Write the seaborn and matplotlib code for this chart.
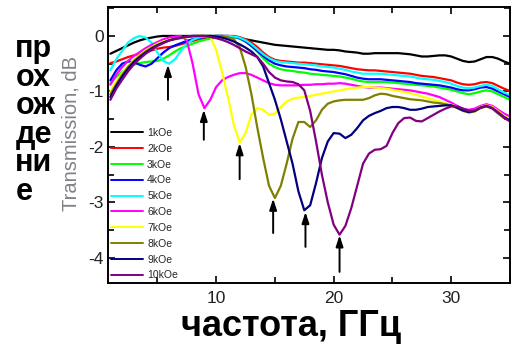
import numpy as np
import pandas as pd
import matplotlib
matplotlib.use("Agg")
import matplotlib.pyplot as plt
import seaborn as sns
from matplotlib.ticker import MultipleLocator

freq = [1.0, 1.5, 2.0, 2.5, 3.0, 3.5, 4.0, 4.5, 5.0, 5.5, 6.0, 6.5, 7.0, 7.5, 8.0, 8.5,
        9.0, 9.5, 10.0, 10.5, 11.0, 11.5, 12.0, 12.5, 13.0, 13.5, 14.0, 14.5, 15.0, 15.5,
        16.0, 16.5, 17.0, 17.5, 18.0, 18.5, 19.0, 19.5, 20.0, 20.5, 21.0, 21.5, 22.0, 22.5,
        23.0, 23.5, 24.0, 24.5, 25.0, 25.5, 26.0, 26.5, 27.0, 27.5, 28.0, 28.5, 29.0, 29.5,
        30.0, 30.5, 31.0, 31.5, 32.0, 32.5, 33.0, 33.5, 34.0, 34.5, 35.0]

t_1kOe = [-0.32, -0.27, -0.22, -0.17, -0.12, -0.08, -0.05, -0.03, -0.01, 0.0, 0.0, 0.0, 0.0, 0.0,
          0.0, 0.0, 0.0, 0.0, 0.0, 0.0, -0.01, -0.02, -0.04, -0.06, -0.08, -0.1, -0.12, -0.14,
          -0.16, -0.17, -0.18, -0.19, -0.2, -0.21, -0.22, -0.23, -0.24, -0.25, -0.25, -0.26,
          -0.28, -0.29, -0.3, -0.32, -0.32, -0.31, -0.31, -0.31, -0.31, -0.31, -0.32, -0.33,
          -0.35, -0.37, -0.37, -0.36, -0.35, -0.35, -0.37, -0.41, -0.45, -0.47, -0.46, -0.42,
          -0.38, -0.38, -0.41, -0.46, -0.5]
t_2kOe = [-0.49, -0.46, -0.42, -0.38, -0.35, -0.32, -0.29, -0.26, -0.23, -0.21, -0.2, -0.18,
          -0.15, -0.12, -0.09, -0.06, -0.04, -0.02, -0.01, 0.0, 0.0, 0.0, -0.02, -0.06, -0.12,
          -0.2, -0.3, -0.38, -0.43, -0.45, -0.46, -0.47, -0.48, -0.48, -0.49, -0.5, -0.51,
          -0.52, -0.53, -0.54, -0.56, -0.58, -0.6, -0.61, -0.62, -0.62, -0.63, -0.64, -0.65,
          -0.66, -0.67, -0.68, -0.7, -0.72, -0.73, -0.74, -0.76, -0.78, -0.8, -0.84, -0.87,
          -0.88, -0.87, -0.84, -0.83, -0.85, -0.9, -0.95, -0.99]
t_3kOe = [-0.85, -0.74, -0.65, -0.58, -0.52, -0.49, -0.47, -0.46, -0.45, -0.41, -0.35, -0.28,
          -0.22, -0.18, -0.14, -0.1, -0.07, -0.05, -0.03, -0.02, -0.01, -0.02, -0.05, -0.1,
          -0.18, -0.28, -0.4, -0.5, -0.56, -0.6, -0.62, -0.63, -0.65, -0.66, -0.68, -0.69,
          -0.7, -0.71, -0.72, -0.73, -0.75, -0.77, -0.8, -0.82, -0.83, -0.83, -0.83, -0.83,
          -0.84, -0.85, -0.86, -0.87, -0.88, -0.89, -0.9, -0.91, -0.93, -0.95, -0.97, -1.0,
          -1.03, -1.05, -1.03, -1.0, -0.98, -1.0, -1.05, -1.1, -1.15]
t_4kOe = [-0.8, -0.62, -0.5, -0.46, -0.47, -0.52, -0.55, -0.5, -0.4, -0.3, -0.22, -0.17,
          -0.13, -0.09, -0.06, -0.04, -0.02, -0.01, 0.0, 0.0, 0.0, -0.01, -0.04, -0.1, -0.18,
          -0.27, -0.36, -0.44, -0.5, -0.53, -0.55, -0.56, -0.57, -0.58, -0.6, -0.61, -0.63,
          -0.64, -0.65, -0.67, -0.69, -0.72, -0.75, -0.77, -0.78, -0.78, -0.78, -0.79, -0.8,
          -0.81, -0.82, -0.83, -0.85, -0.86, -0.87, -0.88, -0.89, -0.91, -0.93, -0.96, -0.98,
          -0.98, -0.96, -0.93, -0.92, -0.95, -1.0, -1.05, -1.1]
t_5kOe = [-0.62, -0.42, -0.27, -0.12, -0.04, 0.0, -0.03, -0.12, -0.3, -0.45, -0.5, -0.42,
          -0.27, -0.14, -0.07, -0.03, -0.01, 0.0, 0.0, 0.0, 0.0, -0.01, -0.03, -0.08, -0.15,
          -0.24, -0.33, -0.4, -0.45, -0.47, -0.48, -0.49, -0.5, -0.51, -0.52, -0.53, -0.55,
          -0.56, -0.57, -0.59, -0.61, -0.64, -0.66, -0.68, -0.68, -0.68, -0.68, -0.69, -0.7,
          -0.71, -0.72, -0.73, -0.75, -0.77, -0.78, -0.79, -0.81, -0.83, -0.86, -0.9, -0.93,
          -0.94, -0.93, -0.9, -0.88, -0.9, -0.96, -1.02, -1.06]
t_6kOe = [-0.88, -0.7, -0.56, -0.45, -0.36, -0.29, -0.22, -0.16, -0.11, -0.06, -0.03, -0.01,
          0.0, -0.08, -0.5, -1.05, -1.3, -1.15, -0.92, -0.8, -0.74, -0.7, -0.67, -0.67, -0.7,
          -0.75, -0.8, -0.85, -0.88, -0.89, -0.89, -0.89, -0.89, -0.88, -0.88, -0.87, -0.87,
          -0.86, -0.86, -0.85, -0.86, -0.88, -0.9, -0.92, -0.93, -0.93, -0.93, -0.94, -0.95,
          -0.96, -0.97, -0.98, -1.0, -1.02, -1.04, -1.07, -1.1, -1.15, -1.2, -1.26, -1.31,
          -1.33, -1.31, -1.26, -1.23, -1.26, -1.33, -1.4, -1.45]
t_7kOe = [-1.0, -0.82, -0.67, -0.54, -0.43, -0.34, -0.26, -0.2, -0.14, -0.1, -0.07, -0.05,
          -0.03, -0.02, -0.01, 0.0, 0.0, -0.02, -0.25, -0.65, -1.1, -1.6, -1.92, -1.75, -1.42,
          -1.3, -1.33, -1.42, -1.4, -1.28, -1.18, -1.13, -1.11, -1.1, -1.08, -1.06, -1.04,
          -1.02, -1.0, -0.98, -0.96, -0.94, -0.93, -0.92, -0.92, -0.93, -0.94, -0.95, -0.97,
          -0.99, -1.01, -1.03, -1.06, -1.09, -1.12, -1.15, -1.18, -1.21, -1.24, -1.28, -1.33,
          -1.36, -1.34, -1.28, -1.25, -1.28, -1.36, -1.44, -1.5]
t_8kOe = [-1.05, -0.87, -0.7, -0.56, -0.45, -0.36, -0.28, -0.21, -0.16, -0.12, -0.08, -0.06,
          -0.04, -0.02, -0.01, 0.0, 0.0, 0.0, 0.0, 0.0, -0.02, -0.06, -0.2, -0.55, -1.05,
          -1.65, -2.2, -2.7, -2.92, -2.7, -2.3, -1.85, -1.55, -1.55, -1.64, -1.52, -1.33,
          -1.22, -1.18, -1.16, -1.15, -1.15, -1.15, -1.15, -1.12, -1.07, -1.04, -1.05, -1.08,
          -1.1, -1.12, -1.14, -1.15, -1.16, -1.18, -1.2, -1.21, -1.23, -1.25, -1.3, -1.35,
          -1.38, -1.36, -1.3, -1.27, -1.31, -1.4, -1.48, -1.53]
t_9kOe = [-1.1, -0.9, -0.73, -0.59, -0.47, -0.38, -0.3, -0.23, -0.17, -0.12, -0.08, -0.05,
          -0.03, -0.01, 0.0, 0.0, 0.0, 0.0, -0.01, -0.03, -0.06, -0.1, -0.15, -0.21, -0.28,
          -0.38, -0.55, -0.85, -1.15, -1.5, -1.9, -2.3, -2.8, -3.14, -3.05, -2.65, -2.2,
          -1.9, -1.75, -1.76, -1.84, -1.78, -1.66, -1.52, -1.44, -1.39, -1.35, -1.3, -1.28,
          -1.28, -1.3, -1.33, -1.33, -1.31, -1.28, -1.27, -1.26, -1.25, -1.25, -1.29, -1.34,
          -1.37, -1.35, -1.29, -1.26, -1.3, -1.38, -1.46, -1.52]
t_10kOe = [-1.15, -0.95, -0.79, -0.64, -0.51, -0.41, -0.32, -0.25, -0.18, -0.13, -0.08, -0.05,
           -0.03, -0.01, 0.0, 0.0, 0.0, -0.02, -0.04, -0.07, -0.11, -0.16, -0.22, -0.28, -0.33,
           -0.38, -0.5, -0.65, -0.75, -0.8, -0.82, -0.83, -0.87, -0.98, -1.35, -1.9, -2.5,
           -3.0, -3.4, -3.58, -3.42, -3.1, -2.7, -2.3, -2.12, -2.05, -2.04, -1.98, -1.75,
           -1.57, -1.48, -1.47, -1.53, -1.54, -1.48, -1.42, -1.36, -1.31, -1.27, -1.27, -1.31,
           -1.35, -1.34, -1.29, -1.26, -1.3, -1.38, -1.47, -1.54]

labels = ["1kOe", "2kOe", "3kOe", "4kOe", "5kOe", "6kOe", "7kOe", "8kOe", "9kOe", "10kOe"]
series = [t_1kOe, t_2kOe, t_3kOe, t_4kOe, t_5kOe, t_6kOe, t_7kOe, t_8kOe, t_9kOe, t_10kOe]
colors = ["#000000", "#ff0000", "#00ff00", "#0000ff", "#00ffff", "#ff00ff", "#ffff00",
          "#808000", "#000080", "#800080"]

arrow_x = [5.9, 8.95, 12.0, 14.85, 17.6, 20.5]
arrow_head = [-0.52, -1.33, -1.93, -2.93, -3.17, -3.59]
arrow_tail = [-1.15, -1.87, -2.58, -3.55, -3.8, -4.25]

df = pd.concat([pd.DataFrame({"freq": freq, "val": s, "field": lab})
                for s, lab in zip(series, labels)], ignore_index=True)

sns.set_theme(style="white")
plt.rcParams["font.family"] = ["Liberation Sans", "DejaVu Sans"]
plt.rcParams["axes.unicode_minus"] = False

fig = plt.figure(figsize=(5.12, 3.54), dpi=100)
ax = fig.add_axes([0.211, 0.2006, 0.785, 0.7794])

sns.lineplot(data=df, x="freq", y="val", hue="field", hue_order=labels,
             palette=colors, sort=False, linewidth=1.6, ax=ax, legend=True)

for xa, yh, yt in zip(arrow_x, arrow_head, arrow_tail):
    ax.annotate("", xy=(xa, yh), xytext=(xa, yt),
                arrowprops=dict(arrowstyle="-|>,head_length=0.55,head_width=0.18",
                                color="black", lw=1.4, shrinkA=0, shrinkB=0))

ax.set_xlim(0.8, 35)
ax.set_ylim(-4.45, 0.52)
ax.xaxis.set_major_locator(MultipleLocator(10))
ax.xaxis.set_minor_locator(MultipleLocator(5))
ax.yaxis.set_major_locator(MultipleLocator(1))
ax.yaxis.set_minor_locator(MultipleLocator(0.5))
ax.tick_params(which="both", direction="in", top=True, right=True, bottom=True, left=True,
               width=1.2, colors="black", labelcolor="#222222", labelsize=12.5)
ax.tick_params(axis="x", which="both", pad=6)
ax.tick_params(axis="y", which="both", pad=3)
ax.tick_params(which="major", length=5)
ax.tick_params(which="minor", length=4)
for sp in ax.spines.values():
    sp.set_color("black")
    sp.set_linewidth(1.4)

ax.set_xlabel("")
ax.set_ylabel("")

leg = ax.legend(loc="lower left", bbox_to_anchor=(0.0, 0.0), frameon=False, fontsize=7.5,
                handlelength=3.1, handletextpad=0.4, labelspacing=0.56, borderaxespad=0.1,
                borderpad=0.15)
for h in leg.get_lines():
    h.set_linewidth(1.4)

fig.text(0.139, 0.622, "Transmission, dB", rotation=90, ha="center", va="center",
         fontsize=14.5, color="#808088")

rows = ["пр", "ох", "ож", "де", "ни", "е"]
for i, r in enumerate(rows):
    fig.text(0.03, 1 - (49 + i * 28.6) / 354, r, ha="left", va="center",
             fontsize=22, fontweight="bold", color="black")

fig.text(0.568, 1 - 327 / 354, "частота, ГГц", ha="center", va="center",
         fontsize=26, fontweight="bold", color="black")

fig.savefig("out.png", dpi=100)
